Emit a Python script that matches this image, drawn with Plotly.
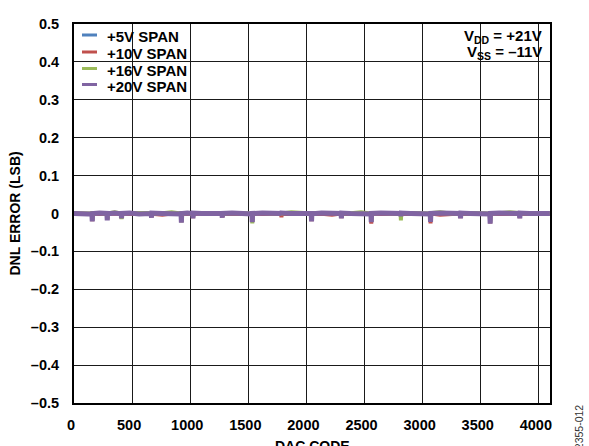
import plotly.graph_objects as go

# ---------------- data ----------------
DAC_CODES = [
    0, 60, 120,
    154, 157, 160,
    220,
    283, 286, 289,
    350,
    406, 409, 412,
    480, 560,
    664, 667, 670,
    760, 840,
    921, 924, 927,
    975,
    1021, 1024, 1027,
    1100, 1190,
    1273, 1276, 1279,
    1360, 1450,
    1531, 1534, 1537,
    1620, 1700,
    1782, 1785, 1788,
    1870, 1960,
    2041, 2044, 2047,
    2130, 2220,
    2298, 2301, 2304,
    2380, 2470,
    2555, 2558, 2561,
    2640, 2730,
    2810, 2813, 2816,
    2900, 2990,
    3065, 3068, 3071,
    3150, 3240,
    3323, 3326, 3329,
    3410, 3500,
    3578, 3581, 3584,
    3660, 3750,
    3833, 3836, 3839,
    3920, 4000, 4095,
]

DNL_5V = [
    0.000, 0.000, -0.001,
    -0.001, -0.019, 0.000,
    0.000,
    0.000, -0.015, -0.001,
    0.001,
    -0.001, -0.011, 0.000,
    0.000, -0.001,
    0.000, -0.009, 0.000,
    0.000, 0.001,
    -0.001, -0.022, 0.000,
    0.000,
    0.000, -0.011, 0.000,
    0.000, -0.001,
    0.000, -0.009, 0.000,
    0.000, 0.000,
    -0.001, -0.021, 0.000,
    0.000, 0.000,
    0.000, -0.003, 0.000,
    0.000, 0.001,
    0.000, -0.019, -0.001,
    0.000, 0.000,
    0.000, -0.011, 0.000,
    0.000, 0.000,
    -0.001, -0.022, 0.000,
    0.000, 0.000,
    0.000, -0.004, 0.000,
    0.000, 0.000,
    -0.001, -0.021, 0.000,
    0.000, 0.000,
    0.000, -0.011, 0.000,
    0.000, 0.000,
    -0.001, -0.025, 0.000,
    0.000, 0.000,
    0.000, -0.011, 0.000,
    0.000, 0.000, 0.000,
]

DNL_10V = [
    0.000, 0.000, -0.001,
    -0.001, -0.020, 0.000,
    -0.001,
    0.000, -0.016, -0.001,
    0.000,
    -0.001, -0.012, 0.000,
    -0.001, 0.000,
    0.000, -0.010, -0.001,
    -0.003, 0.000,
    -0.001, -0.023, 0.000,
    -0.001,
    0.000, -0.012, -0.001,
    0.000, -0.001,
    0.000, -0.010, -0.001,
    -0.001, 0.000,
    -0.001, -0.022, 0.000,
    -0.001, -0.001,
    0.000, -0.010, -0.001,
    -0.001, 0.000,
    0.000, -0.020, -0.001,
    -0.001, -0.003,
    0.000, -0.012, -0.001,
    -0.001, 0.000,
    -0.001, -0.027, 0.000,
    -0.001, -0.001,
    0.000, -0.005, -0.001,
    -0.001, 0.000,
    -0.001, -0.026, 0.000,
    -0.003, -0.001,
    0.000, -0.012, -0.001,
    -0.001, 0.000,
    -0.001, -0.026, 0.000,
    -0.001, -0.001,
    0.000, -0.012, -0.001,
    -0.001, 0.000, 0.000,
]

DNL_16V = [
    0.000, 0.001, 0.000,
    0.000, -0.019, 0.001,
    0.001,
    0.000, -0.015, 0.000,
    0.003,
    0.000, -0.015, 0.001,
    0.001, 0.000,
    0.001, -0.009, 0.000,
    0.001, 0.003,
    0.000, -0.023, 0.001,
    0.001,
    0.000, -0.011, 0.001,
    0.001, 0.000,
    0.001, -0.009, 0.000,
    0.001, 0.001,
    0.000, -0.026, 0.001,
    0.001, 0.000,
    0.001, -0.001, 0.000,
    0.003, 0.001,
    0.000, -0.019, 0.001,
    0.001, 0.000,
    0.001, -0.011, 0.000,
    0.001, 0.003,
    0.000, -0.021, 0.001,
    0.001, 0.000,
    0.000, -0.018, 0.001,
    0.001, 0.001,
    0.000, -0.021, 0.001,
    0.003, 0.000,
    0.001, -0.011, 0.000,
    0.001, 0.001,
    0.000, -0.025, 0.001,
    0.001, 0.003,
    0.001, -0.011, 0.000,
    0.001, 0.001, 0.000,
]

DNL_20V = [
    0.000, 0.001, -0.001,
    -0.001, -0.021, 0.000,
    0.001,
    0.000, -0.018, -0.001,
    0.001,
    -0.001, -0.013, 0.000,
    0.001, -0.001,
    0.000, -0.011, 0.001,
    0.000, 0.001,
    -0.001, -0.024, 0.000,
    0.001,
    0.000, -0.013, 0.001,
    0.000, -0.001,
    0.000, -0.011, 0.000,
    0.001, 0.000,
    -0.001, -0.023, 0.000,
    0.001, 0.000,
    0.000, -0.004, 0.001,
    0.000, 0.001,
    0.000, -0.021, -0.001,
    0.001, 0.000,
    0.000, -0.013, 0.001,
    0.000, 0.001,
    -0.001, -0.023, 0.000,
    0.001, 0.000,
    0.000, -0.007, 0.001,
    0.000, 0.001,
    -0.001, -0.022, 0.000,
    0.001, 0.000,
    0.000, -0.013, 0.001,
    0.000, 0.001,
    -0.001, -0.027, 0.000,
    0.001, 0.000,
    0.000, -0.013, 0.001,
    0.000, 0.001, 0.000,
]

SERIES_NAMES = ["+5V SPAN", "+10V SPAN", "+16V SPAN", "+20V SPAN"]
SERIES_VALUES = [DNL_5V, DNL_10V, DNL_16V, DNL_20V]
SERIES_COLORS = ["#4F81BD", "#C0504D", "#9BBB59", "#8064A2"]
SERIES_WIDTHS = [4, 4, 4, 5]

X_TICKS = [0, 500, 1000, 1500, 2000, 2500, 3000, 3500, 4000]
X_TICK_LABELS = ["0", "500", "1000", "1500", "2000", "2500", "3000", "3500", "4000"]
Y_TICKS = [0.5, 0.4, 0.3, 0.2, 0.1, 0, -0.1, -0.2, -0.3, -0.4, -0.5]
Y_TICK_LABELS = ["0.5", "0.4", "0.3", "0.2", "0.1", "0",
                 "–0.1", "–0.2", "–0.3", "–0.4", "–0.5"]

X_TITLE = "DAC CODE"
Y_TITLE = "DNL ERROR (LSB)"
SUPPLY_LINES = ["V<sub>DD</sub> = +21V", "V<sub>SS</sub> = –11V"]
FIG_ID = "12355-012"

# ---------------- layout geometry ----------------
FIG_W, FIG_H = 589, 446
L, R, T, B = 74, 39, 24, 43
PW = FIG_W - L - R
PH = FIG_H - T - B
FONT = "Liberation Sans, Arial, sans-serif"


def px(x):
    return (x - L) / PW


def py(y):
    return (T + PH - y) / PH


fig = go.Figure()
for name, vals, col, w in zip(SERIES_NAMES, SERIES_VALUES, SERIES_COLORS, SERIES_WIDTHS):
    fig.add_trace(go.Scatter(
        x=DAC_CODES, y=vals, mode="lines", name=name,
        line=dict(color=col, width=w), showlegend=False,
    ))

shapes = [
    # white boxes behind the legend and the supply annotation
    dict(type="rect", xref="paper", yref="paper", layer="between",
         x0=px(75.5), x1=px(197), y0=py(96), y1=py(25.5),
         fillcolor="white", line=dict(width=0)),
    dict(type="rect", xref="paper", yref="paper", layer="between",
         x0=px(448), x1=px(546), y0=py(70), y1=py(25.5),
         fillcolor="white", line=dict(width=0)),
]
annotations = []
legend_rows = [35, 52, 68.5, 84.5]
for yy, name, col in zip(legend_rows, SERIES_NAMES, SERIES_COLORS):
    shapes.append(dict(type="line", xref="paper", yref="paper", layer="above",
                       x0=px(82), x1=px(97), y0=py(yy), y1=py(yy),
                       line=dict(color=col, width=3)))
    annotations.append(dict(xref="paper", yref="paper", x=px(105), y=py(yy + 1.5),
                            xanchor="left", yanchor="middle", showarrow=False,
                            text=name,
                            font=dict(family=FONT, size=15, color="black", weight="bold")))

for yy, txt in zip([36, 52.5], SUPPLY_LINES):
    annotations.append(dict(xref="paper", yref="paper", x=px(544), y=py(yy),
                            xanchor="right", yanchor="middle", showarrow=False,
                            text=txt,
                            font=dict(family=FONT, size=15, color="black", weight="bold")))

annotations.append(dict(xref="paper", yref="paper", x=px(14), y=0.5,
                        xanchor="center", yanchor="middle", showarrow=False,
                        textangle=-90, text=Y_TITLE,
                        font=dict(family=FONT, size=14, color="black", weight="bold")))
annotations.append(dict(xref="paper", yref="paper", x=px(312), y=py(436),
                        xanchor="center", yanchor="top", showarrow=False,
                        text=X_TITLE,
                        font=dict(family=FONT, size=14, color="black", weight="bold")))
annotations.append(dict(xref="paper", yref="paper", x=px(579), y=py(403),
                        xanchor="center", yanchor="top", showarrow=False,
                        textangle=-90, text=FIG_ID,
                        font=dict(family=FONT, size=10.5, color="#333333")))

fig.update_layout(
    width=FIG_W, height=FIG_H,
    margin=dict(l=L, r=R, t=T, b=B, pad=0),
    paper_bgcolor="white", plot_bgcolor="white",
    shapes=shapes, annotations=annotations,
    showlegend=False,
    xaxis=dict(range=[0, 4096], tickvals=X_TICKS, ticktext=X_TICK_LABELS,
               showgrid=True, gridcolor="#1a1a1a", gridwidth=1,
               zeroline=False, showline=True, mirror=True,
               linecolor="black", linewidth=2, ticks="",
               ticklabelstandoff=8, ticklabelshift=-3,
               tickfont=dict(family=FONT, size=14.5, color="black", weight="bold")),
    yaxis=dict(range=[-0.5, 0.5], tickvals=Y_TICKS, ticktext=Y_TICK_LABELS,
               showgrid=True, gridcolor="#1a1a1a", gridwidth=1,
               zeroline=False, showline=True, mirror=True,
               linecolor="black", linewidth=2, ticks="",
               ticklabelstandoff=10,
               tickfont=dict(family=FONT, size=14.5, color="black", weight="bold")),
)

fig.write_html("out.html",
               config={"displayModeBar": False},
               post_script="document.body.style.margin='0px';"
                           "document.body.style.overflow='hidden';")
